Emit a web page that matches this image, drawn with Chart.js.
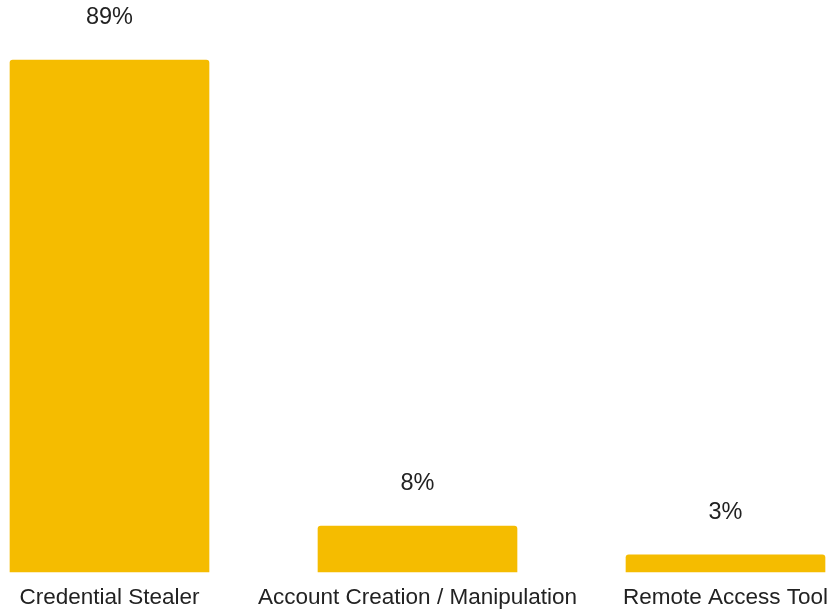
<!DOCTYPE html>
<html>
<head>
<meta charset="utf-8">
<script src="https://cdn.jsdelivr.net/npm/chart.js@4/dist/chart.umd.min.js"></script>
<style>
  html, body { margin: 0; padding: 0; background: #fff; }
  #wrap { width: 828px; height: 610px; position: relative; }
</style>
</head>
<body>
<div id="wrap"><canvas id="malwareChart"></canvas></div>
<script>
const categories = ['Credential Stealer', 'Account Creation / Manipulation', 'Remote Access Tool'];
const shares = [89, 8, 3];

const barColor = '#F5BC00';
const textColor = '#222222';
const fontFamily = '"Liberation Sans", Arial, sans-serif';

// percentage text above each bar
const valueLabels = {
    id: 'valueLabels',
    afterDatasetsDraw(chart) {
        const ctx = chart.ctx;
        const meta = chart.getDatasetMeta(0);
        ctx.save();
        ctx.font = '23.5px ' + fontFamily;
        ctx.fillStyle = textColor;
        ctx.textAlign = 'center';
        ctx.textBaseline = 'middle';
        meta.data.forEach((bar, i) => {
            ctx.fillText(shares[i] + '%', bar.x, bar.y - 42);
        });
        ctx.restore();
    }
};

const ctx = document.getElementById('malwareChart').getContext('2d');
new Chart(ctx, {
    type: 'bar',
    data: {
        labels: categories,
        datasets: [{
            data: shares,
            backgroundColor: barColor,
            borderRadius: 3,
            barThickness: 199,
            clip: false
        }]
    },
    options: {
        responsive: true,
        maintainAspectRatio: false,
        animation: false,
        layout: { padding: { top: 60, left: 109.5, right: 102.5, bottom: 0 } },
        plugins: {
            legend: { display: false },
            tooltip: { enabled: false }
        },
        scales: {
            x: {
                offset: false,
                grid: { display: false },
                border: { display: false },
                ticks: {
                    color: textColor,
                    font: { family: fontFamily, size: 22.5 },
                    padding: 4,
                    maxRotation: 0,
                    autoSkip: false
                },
                afterFit(scale) {
                    // fixed axis band; side padding comes from the layout only
                    scale.height = 38;
                    scale.paddingLeft = 0;
                    scale.paddingRight = 0;
                }
            },
            y: {
                display: false,
                min: 0,
                max: 89
            }
        }
    },
    plugins: [valueLabels]
});
</script>
</body>
</html>
